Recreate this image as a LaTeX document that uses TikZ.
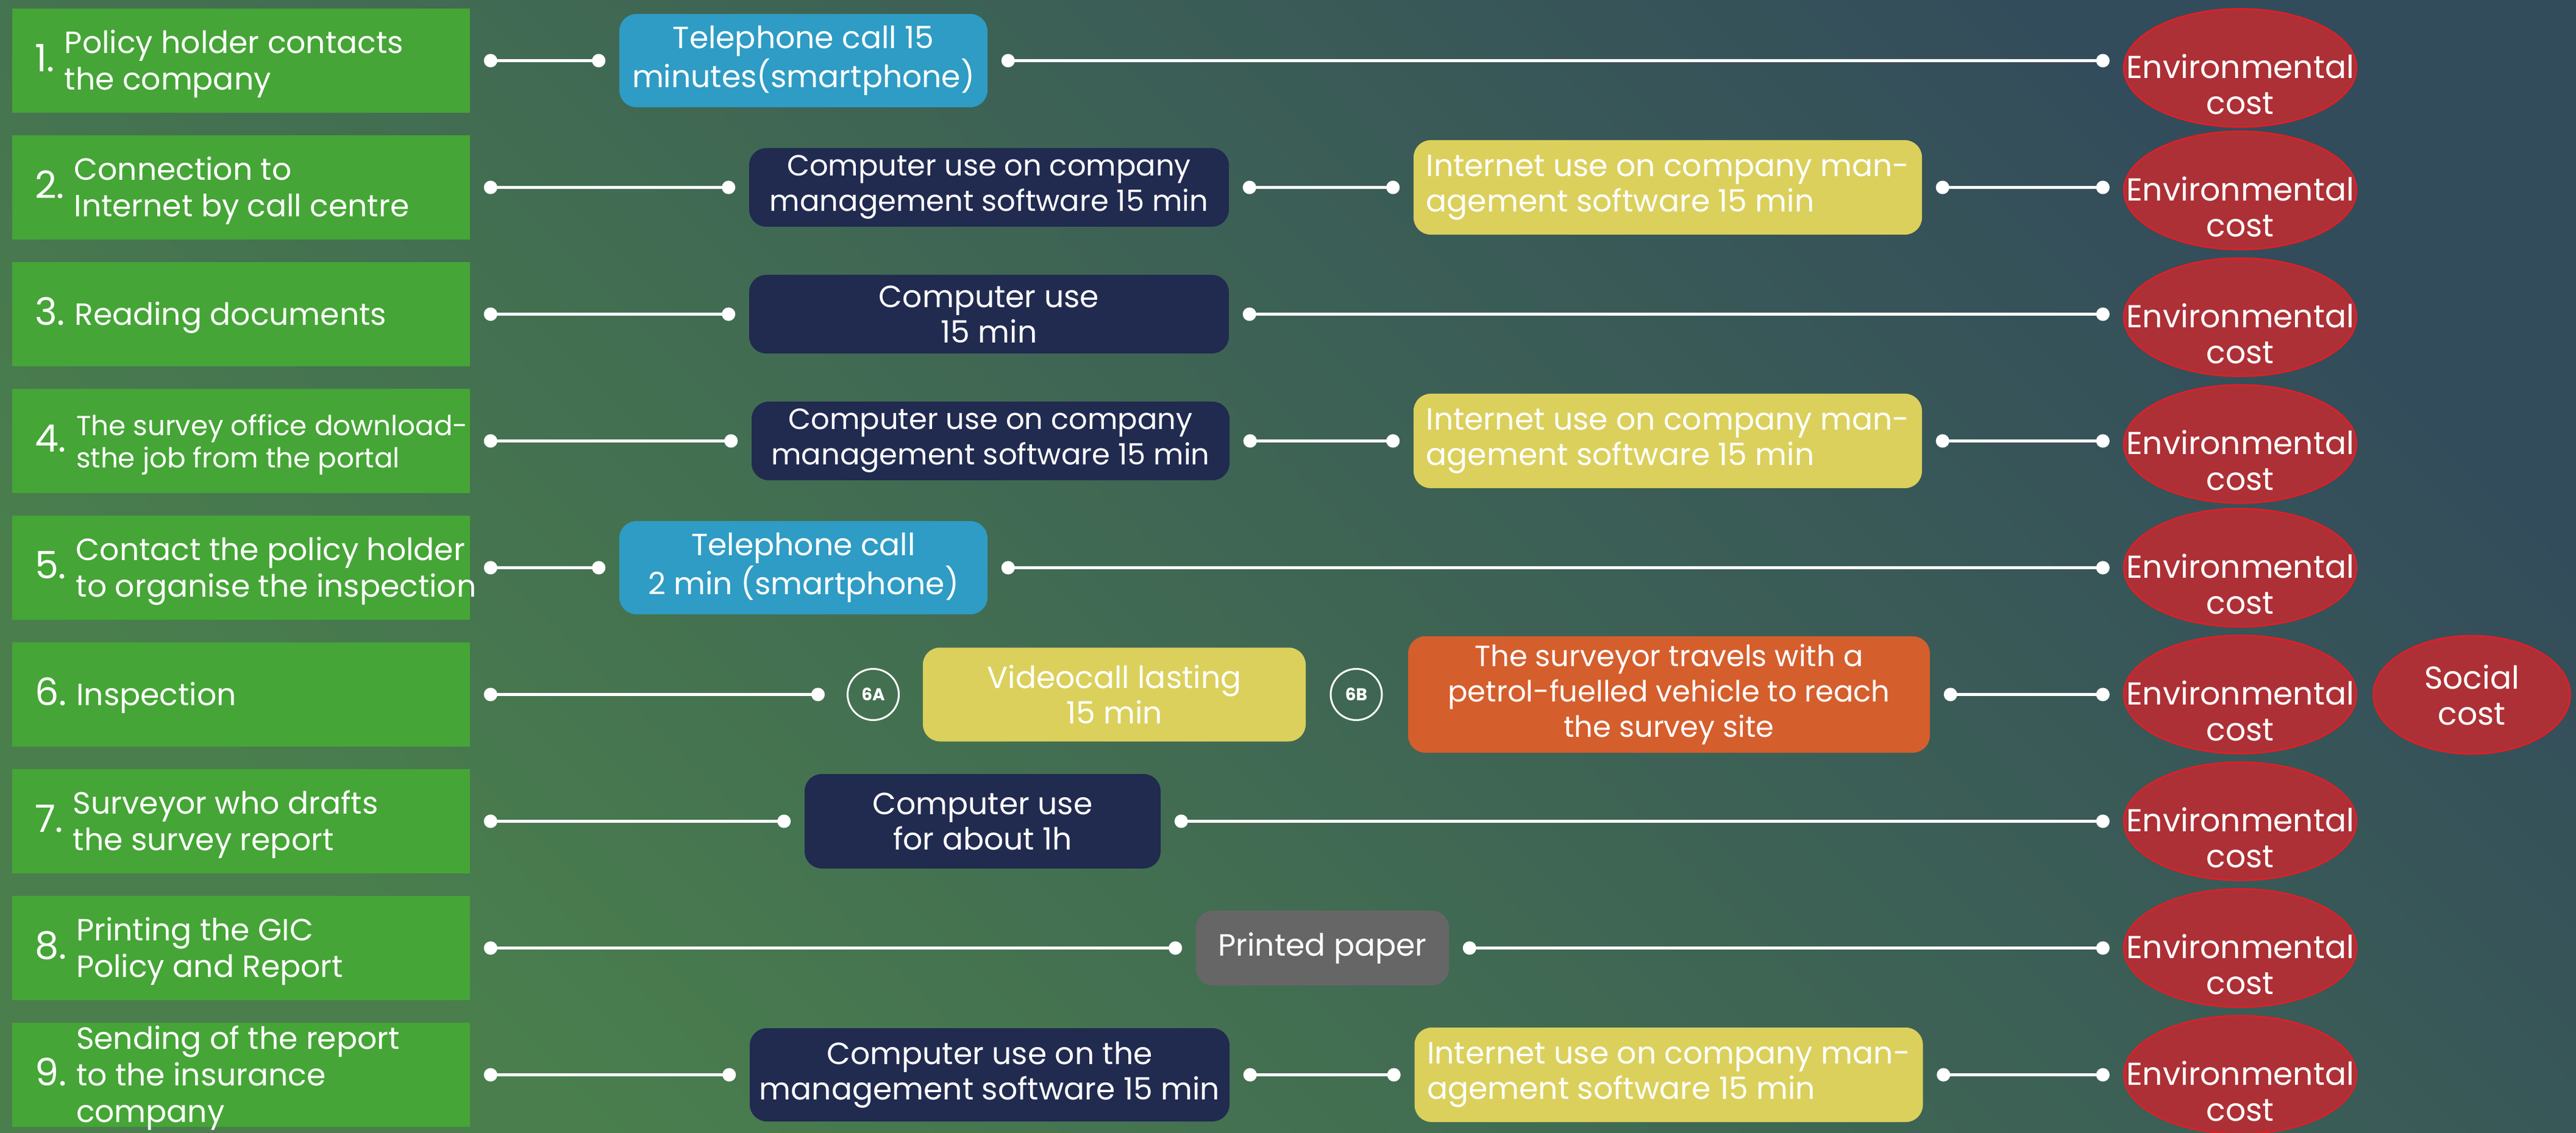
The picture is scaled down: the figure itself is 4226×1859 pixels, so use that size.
\documentclass[tikz,border=0pt]{standalone}
\usepackage{fontspec}
\setmainfont{Poppins}
\usetikzlibrary{arrows.meta,shapes.geometric,positioning}

\definecolor{bggreen}{HTML}{4A7F4D}
\definecolor{bgslate}{HTML}{334C5B}
\definecolor{stepgreen}{HTML}{45A536}
\definecolor{pcnavy}{HTML}{212A4F}
\definecolor{callblue}{HTML}{2E9CC4}
\definecolor{netyellow}{HTML}{DBD05C}
\definecolor{carorange}{HTML}{D55E2D}
\definecolor{papergrey}{HTML}{666666}
\definecolor{costred}{HTML}{AD3036}
\definecolor{costline}{HTML}{E41E26}

\newcommand{\stepnum}[3][]{\makebox[169.25pt][l]{\smash{\raisebox{-4.5pt}{{\fontsize{15.5}{15}\selectfont #2}\hspace{4pt}{#1\begin{tabular}[c]{@{}l@{}}#3\end{tabular}}}}}}

\tikzset{
  stepbox/.style={fill=stepgreen, text=white, inner xsep=9.25pt, inner ysep=0pt, minimum height=42.75pt, font=\fontsize{12.6}{15}\selectfont},
  usebox/.style={rounded corners=7pt, text=white, inner sep=0pt, align=center, font=\fontsize{12.6}{14.5}\selectfont},
  smalltext/.style={font=\fontsize{12}{14.5}\selectfont},
  callbox/.style={usebox, fill=callblue, minimum width=151pt, minimum height=38.25pt},
  pcbox/.style={usebox, fill=pcnavy},
  netbox/.style={usebox, fill=netyellow, align=left, minimum width=208.5pt, minimum height=38.75pt},
  carbox/.style={usebox, smalltext, fill=carorange, minimum width=214pt, minimum height=47.75pt},
  paperbox/.style={usebox, fill=papergrey, minimum width=103.75pt, minimum height=30.75pt},
  optcircle/.style={circle, draw=white, line width=0.75pt, text=white, inner sep=0pt, minimum size=21pt, font=\fontsize{7}{7}\selectfont\bfseries},
  costell/.style={ellipse, fill=costred, draw=costline, line width=0.6pt, inner sep=0pt, minimum width=95.5pt, minimum height=48.5pt},
  costtxt/.style={text=white, align=center, inner sep=0pt, font=\fontsize{13}{14.75}\selectfont},
  link/.style={draw=white, line width=1.25pt, {Circle[length=5.5pt]}-{Circle[length=5.5pt]}, shorten <=5.5pt, shorten >=5.5pt}
}

\begin{document}
\begin{tikzpicture}[x=0.25pt,y=-0.25pt]
   \useasboundingbox (0,0) rectangle (4226,1859);
   \shade[top color=bgslate, bottom color=bggreen, shading angle=-45] (0,0) rectangle (4226,1859);

   \path (395.5,99.5) node[stepbox] (step1) {\stepnum{1.}{Policy holder contacts\\the company}};
   \path (395.5,307.5) node[stepbox] (step2) {\stepnum{2.}{Connection to\\Internet by call centre}};
   \path (395.5,515.5) node[stepbox] (step3) {\stepnum{3.}{Reading documents}};
   \path (395.5,723.5) node[stepbox] (step4) {\stepnum[\fontsize{11.3}{13.25}\selectfont]{4.}{The survey office download-\\sthe job from the portal}};
   \path (395.5,931.5) node[stepbox] (step5) {\stepnum{5.}{Contact the policy holder\\to organise the inspection}};
   \path (395.5,1139.5) node[stepbox] (step6) {\stepnum{6.}{Inspection}};
   \path (395.5,1347.5) node[stepbox] (step7) {\stepnum{7.}{Surveyor who drafts\\the survey report}};
   \path (395.5,1555.5) node[stepbox] (step8) {\stepnum{8.}{Printing the GIC\\Policy and Report}};
   \path (395.5,1763.5) node[stepbox] (step9) {\stepnum{9.}{Sending of the report\\to the insurance\\company}};

   \path (1318,99.5) node[callbox] (call1) {Telephone call 15\\minutes(smartphone)};
   \path (1622.5,307.5) node[pcbox, smalltext, minimum width=196.75pt, minimum height=32.25pt] (pc2) {Computer use on company\\management software 15 min};
   \path (2736,307.5) node[netbox] (net2) {Internet use on company man-\\agement software 15 min};
   \path (1622.5,515.5) node[pcbox, minimum width=196.75pt, minimum height=32.25pt] (pc3) {Computer use\\15 min};
   \path (1625,723.5) node[pcbox, smalltext, minimum width=196pt, minimum height=32.25pt] (pc4) {Computer use on company\\management software 15 min};
   \path (2736,723.5) node[netbox] (net4) {Internet use on company man-\\agement software 15 min};
   \path (1318,931.5) node[callbox] (call5) {Telephone call\\2 min (smartphone)};
   \path (1432.5,1139.5) node[optcircle] (opt6a) {6A};
   \path (1828,1139.5) node[netbox, align=center, minimum width=157pt, minimum height=38.5pt] (video6) {Videocall lasting\\15 min};
   \path (2225,1139.5) node[optcircle] (opt6b) {6B};
   \path (2738,1139.5) node[carbox] (car6) {The surveyor travels with a\\petrol-fuelled vehicle to reach\\the survey site};
   \path (1612,1347.5) node[pcbox, minimum width=146pt, minimum height=38.75pt] (pc7) {Computer use\\for about 1h};
   \path (2169.5,1555.5) node[paperbox] (paper8) {Printed paper};
   \path (1623.5,1763.5) node[pcbox, minimum width=196.75pt, minimum height=38.25pt] (pc9) {Computer use on the\\management software 15 min};
   \path (2737.5,1763.5) node[netbox] (net9) {Internet use on company man-\\agement software 15 min};

   \path (3675,111.5) node[costell] (env1) {};
   \path (3675,312.5) node[costell] (env2) {};
   \path (3675,520.5) node[costell] (env3) {};
   \path (3675,728.5) node[costell] (env4) {};
   \path (3675,931.5) node[costell] (env5) {};
   \path (3675,1139.5) node[costell] (env6) {};
   \path (3675,1347.5) node[costell] (env7) {};
   \path (3675,1555.5) node[costell] (env8) {};
   \path (3675,1763.5) node[costell] (env9) {};
   \path (3675,138.5) node[costtxt] (envt1) {Environmental\\cost};
   \path (3675,339.5) node[costtxt] (envt2) {Environmental\\cost};
   \path (3675,547.5) node[costtxt] (envt3) {Environmental\\cost};
   \path (3675,755.5) node[costtxt] (envt4) {Environmental\\cost};
   \path (3675,958.5) node[costtxt] (envt5) {Environmental\\cost};
   \path (3675,1166.5) node[costtxt] (envt6) {Environmental\\cost};
   \path (3675,1374.5) node[costtxt] (envt7) {Environmental\\cost};
   \path (3675,1582.5) node[costtxt] (envt8) {Environmental\\cost};
   \path (3675,1790.5) node[costtxt] (envt9) {Environmental\\cost};
   \path (4055,1140) node[costell, costtxt, minimum width=80.75pt, minimum height=48.5pt] (social6) {Social\\cost};

   \draw[link] (step1) -- (call1);
   \draw[link] (call1) -- (call1 -| env1.west);
   \draw[link] (step2) -- (pc2);
   \draw[link] (pc2) -- (net2);
   \draw[link] (net2) -- (net2 -| env2.west);
   \draw[link] (step3) -- (pc3);
   \draw[link] (pc3) -- (pc3 -| env3.west);
   \draw[link] (step4) -- (pc4);
   \draw[link] (pc4) -- (net4);
   \draw[link] (net4) -- (net4 -| env4.west);
   \draw[link] (step5) -- (call5);
   \draw[link] (call5) -- (env5);
   \draw[link, shorten >=9pt] (step6) -- (opt6a);
   \draw[link] (car6) -- (env6);
   \draw[link] (step7) -- (pc7);
   \draw[link] (pc7) -- (env7);
   \draw[link] (step8) -- (paper8);
   \draw[link] (paper8) -- (env8);
   \draw[link] (step9) -- (pc9);
   \draw[link] (pc9) -- (net9);
   \draw[link] (net9) -- (env9);
\end{tikzpicture}
\end{document}
